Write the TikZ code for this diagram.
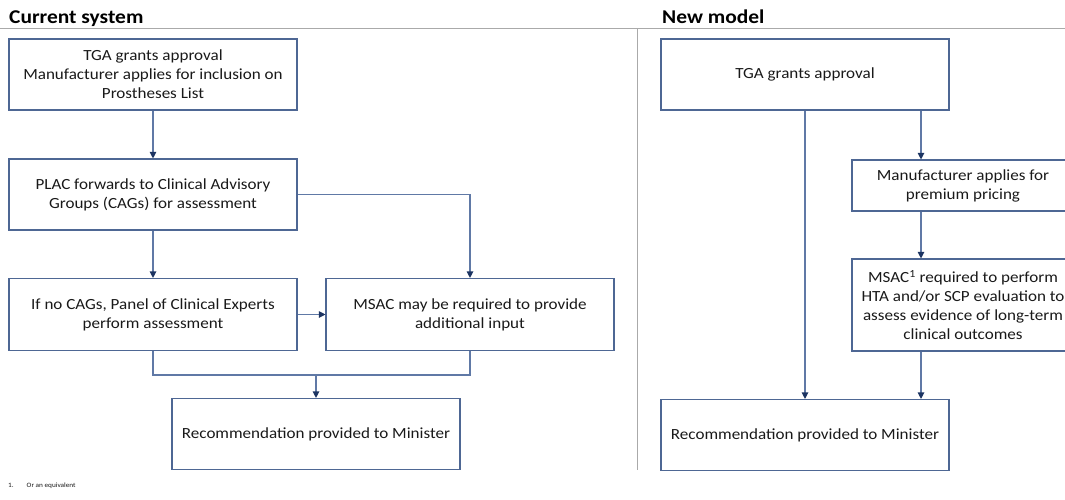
\documentclass[tikz,border=0pt]{standalone}
\usepackage{fontspec}
\setmainfont{Carlito}[FakeStretch=1.1]
\usetikzlibrary{arrows.meta,calc}
\definecolor{boxline}{RGB}{78,103,148}
\definecolor{flowline}{RGB}{96,121,166}
\definecolor{tipnavy}{RGB}{28,52,98}
\definecolor{rulegray}{RGB}{170,170,170}
\definecolor{ink}{RGB}{25,25,25}
\tikzstyle{stage}=[draw=boxline, line width=1.1pt, align=center,
    text=ink, minimum width=288pt, minimum height=71pt, inner sep=2pt,
    font=\fontsize{15.5}{19}\selectfont]
\tikzstyle{narrow}=[stage, minimum width=222pt]
\tikzstyle{flow}=[draw=flowline, line width=1.1pt]
\tikzstyle{feed}=[flow, -{Triangle[length=6.5pt,width=6.5pt,color=tipnavy,fill=tipnavy]}]
\tikzstyle{heading}=[anchor=base west, inner sep=0pt, text=black,
    font=\bfseries\fontsize{19.5}{21}\selectfont]
\def\rowgap{120}

\begin{document}
\begin{tikzpicture}[x=1pt,y=-1pt]
    \clip (0,0) rectangle (1065,500);
    % headings and rules
    \node (cur) [heading] at (9,24) {Current system};
    \node (new) [heading] at (662,24) {New model};
    \draw[rulegray, line width=1pt] (0,29) -- (1065,29);
    \draw[rulegray, line width=1pt] (637.5,29) -- (637.5,470);

    % current system
    \node (tga) [stage] at (153,74.5) {TGA grants approval\\Manufacturer applies for inclusion on\\Prostheses List};
    \path (tga)+(0,\rowgap) node (plac) [stage] {PLAC forwards to Clinical Advisory\\Groups (CAGs) for assessment};
    \path (plac)+(0,\rowgap) node (pce) [stage, minimum height=72pt] {If no CAGs, Panel of Clinical Experts\\perform assessment};
    \path (pce)+(317,0) node (msac) [stage, minimum height=72pt] {MSAC may be required to provide\\additional input};
    \path (pce)+(163,119.5) node (rec) [stage] {Recommendation provided to Minister};
    \coordinate (merge) at (316,375);
    \draw[feed] (tga) -- (plac);
    \draw[feed] (plac) -- (pce);
    \draw[feed] (plac.east) -| (msac.north);
    \draw[feed] (pce) -- (msac);
    \draw[flow] (pce.south) |- (merge) -| (msac.south);
    \draw[feed] (merge) -- (rec.north);

    % new model
    \node (tga2) [stage] at (805,74.5) {TGA grants approval};
    \node (price) [narrow, minimum height=51pt] at (963,185.5) {Manufacturer applies for\\premium pricing};
    \node (hta) [narrow, minimum height=92pt] at (963,305) {MSAC\textsuperscript{1} required to perform\\HTA and/or SCP evaluation to\\assess evidence of long-term\\clinical outcomes};
    \node (rec2) [stage] at (805,435) {Recommendation provided to Minister};
    \coordinate (lane) at (921,0);
    \draw[feed] (tga2) -- (rec2);
    \draw[feed] (lane |- tga2.south) -- (lane |- price.north);
    \draw[feed] (lane |- price.south) -- (lane |- hta.north);
    \draw[feed] (lane |- hta.south) -- (lane |- rec2.north);

    % footnote
    \node (fn) [anchor=base west, inner sep=0pt, text=ink, font=\fontsize{6.6}{8}\selectfont] at (8,487) {1.\hspace{13pt}Or an equivalent};
\end{tikzpicture}
\end{document}
